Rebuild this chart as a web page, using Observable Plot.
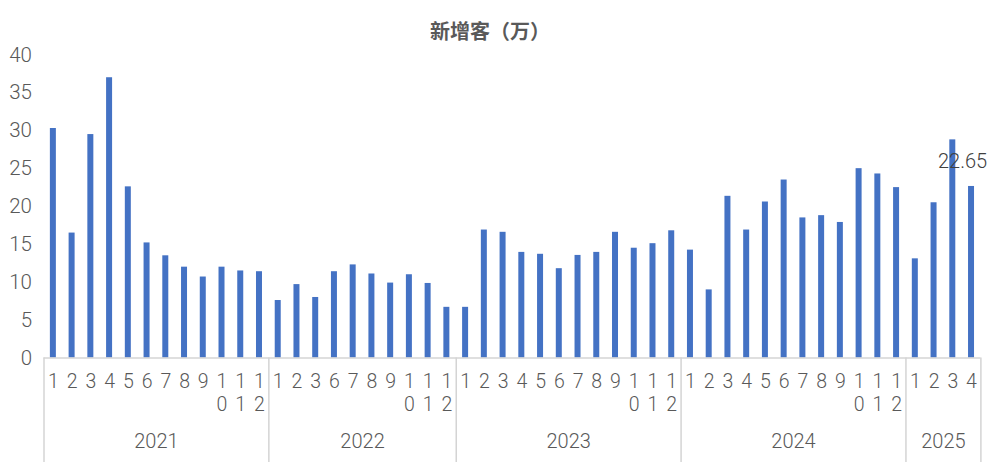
<!DOCTYPE html>
<html><head><meta charset="utf-8">
<script src="https://cdn.jsdelivr.net/npm/d3@7"></script>
<script src="https://cdn.jsdelivr.net/npm/@observablehq/plot@0.6"></script>
<style>
body{margin:0;background:#fff;}
#wrap{position:relative;width:1002px;height:472px;font-family:"Noto Sans CJK SC","Noto Sans",sans-serif;}
#title{position:absolute;left:0;top:17px;width:980px;text-align:center;font-size:20px;font-weight:bold;color:#595959;line-height:28px;z-index:2;}
#wrap svg{position:absolute;left:0;top:0;}
</style></head><body>
<div id="wrap"><div id="title">新增客（万）</div></div>
<script>
// Data
const years = ["2021", "2022", "2023", "2024", "2025"];
const months2021 = [1, 2, 3, 4, 5, 6, 7, 8, 9, 10, 11, 12];
const values2021 = [30.3, 16.5, 29.5, 37.0, 22.6, 15.2, 13.5, 12.0, 10.7, 12.0, 11.5, 11.4];
const months2022 = [1, 2, 3, 6, 7, 8, 9, 10, 11, 12];
const values2022 = [7.6, 9.7, 8.0, 11.4, 12.3, 11.1, 9.9, 11.0, 9.85, 6.7];
const months2023 = [1, 2, 3, 4, 5, 6, 7, 8, 9, 10, 11, 12];
const values2023 = [6.7, 16.9, 16.6, 13.95, 13.7, 11.8, 13.55, 13.95, 16.6, 14.5, 15.1, 16.8];
const months2024 = [1, 2, 3, 4, 5, 6, 7, 8, 9, 10, 11, 12];
const values2024 = [14.25, 9.0, 21.35, 16.9, 20.6, 23.5, 18.5, 18.8, 17.9, 25.0, 24.3, 22.5];
const months2025 = [1, 2, 3, 4];
const values2025 = [13.1, 20.5, 28.8, 22.65];
const yTicks = [0, 5, 10, 15, 20, 25, 30, 35, 40];
const labelledValue = 22.65;

const monthsByYear = [months2021, months2022, months2023, months2024, months2025];
const valuesByYear = [values2021, values2022, values2023, values2024, values2025];

const rows = [];
const groups = [];
years.forEach((yr, k) => {
  const start = rows.length;
  monthsByYear[k].forEach((m, j) => {
    const s = String(m);
    rows.push({i: rows.length, year: yr, month: m, value: valuesByYear[k][j],
      line1: s.charAt(0), line2: s.slice(1)});
  });
  const end = rows.length - 1;
  groups.push({year: yr, start, end, mid: (start + end) / 2});
});
const boundaries = groups.map(g => g.start - 0.5).concat([rows.length - 0.5]);
const labelled = rows.filter(d => d.value === labelledValue && d.i === rows.length - 1);
const wrapped = rows.filter(d => d.line2 !== "");

const numFont = 'Roboto,"Noto Sans",sans-serif';
const grey = "#595959";

const chart = Plot.plot({
  width: 1002,
  height: 472,
  marginTop: 54.5,
  marginBottom: 114.4,
  marginLeft: 43.5,
  marginRight: 21.6,
  style: {fontFamily: numFont, fontSize: "19px", color: grey, background: "transparent"},
  x: {type: "linear", domain: [-0.5, rows.length - 0.5], axis: null},
  y: {domain: [0, 40], axis: null},
  marks: [
    Plot.axisY(yTicks, {tickSize: 0, tickPadding: 12, fontSize: 20.5, fill: grey, label: null, fontWeight: 300}),
    Plot.rectY(rows, {x1: d => d.i - 0.16, x2: d => d.i + 0.16, y: "value", fill: "#4472C4"}),
    Plot.ruleY([0], {stroke: "#d4d4d4", strokeWidth: 1.5}),
    Plot.ruleX(boundaries, {x: d => d, y1: 0, y2: 0, insetBottom: -104.4, stroke: "#d4d4d4", strokeWidth: 1.5}),
    Plot.text(rows, {x: "i", frameAnchor: "bottom", text: "line1", lineAnchor: "middle", dy: 24,
      fontSize: 19.5, fill: grey, fontWeight: 300}),
    Plot.text(wrapped, {x: "i", frameAnchor: "bottom", text: "line2", lineAnchor: "middle", dy: 47,
      fontSize: 19.5, fill: grey, fontWeight: 300}),
    Plot.text(groups, {x: "mid", frameAnchor: "bottom", text: "year", lineAnchor: "middle", dy: 83.5,
      fontSize: 20, fill: grey, fontWeight: 300}),
    Plot.text(labelled, {x: "i", y: "value", text: d => d.value.toFixed(2), dy: -25, dx: -9,
      fontSize: 20, fill: "#404040", fontWeight: 300})
  ]
});
document.getElementById("wrap").appendChild(chart);
</script>
</body></html>
